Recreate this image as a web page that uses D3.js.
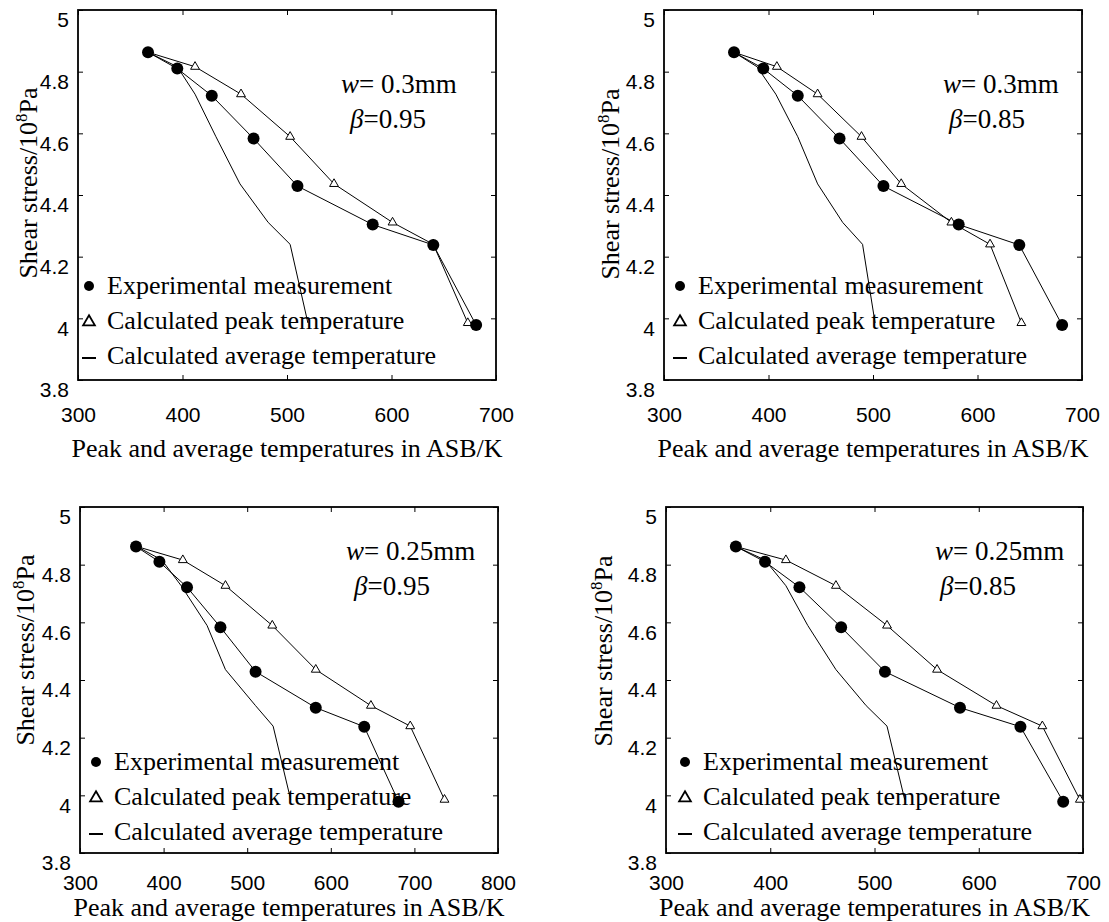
<!DOCTYPE html>
<html>
<head>
<meta charset="utf-8">
<script src="https://cdn.jsdelivr.net/npm/d3@7"></script>
<style>
body { margin: 0; background: #fff; }
.tick line { stroke: #000; stroke-width: 1; }
.tick text { font-family: "Liberation Sans", Arial, sans-serif; font-size: 21px; fill: #000; }
.serif { font-family: "Liberation Serif", "Times New Roman", serif; fill: #000; }
</style>
</head>
<body>
<div id="chart"></div>
<script>
var width = 1109,
	height = 922;

// measured points, same in all four panels
var expTemp = [367, 395, 428, 468, 510, 582, 640, 681];
var expStress = [4.863, 4.81, 4.722, 4.583, 4.429, 4.304, 4.238, 3.978];

// stress levels of the calculated curves
var calcStress = [4.863, 4.816, 4.727, 4.589, 4.436, 4.311, 4.24, 3.985];

// calculated peak temperature, one row per panel
var peakTemp = [
	[367, 412, 456, 503, 545, 601, 640, 673],
	[367, 408, 447, 489, 527, 575, 612, 642],
	[368, 423, 474, 530, 582, 648, 695, 736],
	[367, 415, 463, 512, 560, 617, 661, 697]
];

// calculated average temperature, one row per panel
var avgTemp = [
	[367, 395, 412, 432, 455, 482, 503, 520],
	[367, 389, 407, 428, 447, 471, 490, 502],
	[368, 398, 421, 452, 474, 510, 531, 552],
	[367, 395, 415, 436, 463, 492, 512, 529]
];

var bandWidth = ["0.3", "0.3", "0.25", "0.25"];
var betaValue = ["0.95", "0.85", "0.95", "0.85"];
var xMax = [700, 700, 800, 700];
var yTicks = [3.8, 4, 4.2, 4.4, 4.6, 4.8, 5];
var legendLabels = ["Experimental measurement", "Calculated peak temperature", "Calculated average temperature"];

// plot boxes in page pixels
var boxes = [
	{left: 78, top: 10, right: 496, bottom: 380},
	{left: 664, top: 10, right: 1082, bottom: 380},
	{left: 80, top: 507, right: 498, bottom: 853},
	{left: 666, top: 507, right: 1083, bottom: 853}
];

// small per-panel offsets
var noteX = [263, 279, 266, 269],
	betaX = [272, 285, 274, 274],
	noteY = [83, 83, 53, 53],
	legendX = [11, 16, 16, 19],
	legendBottom = [16, 16, 13, 13],
	yTitleBase = [41, 45, 46, 54],
	yTitleShift = [12, 11, 30, 29],
	xTickPad = [27, 27, 22, 22],
	xTitleY = [77, 77, 63, 63];

var svg = d3.select("#chart")
	.append("svg")
	.attr("width", width)
	.attr("height", height);

svg.append("rect")
	.attr("width", width)
	.attr("height", height)
	.attr("fill", "#fff");

function noDomain(a) { a.select(".domain").remove(); }

boxes.forEach(function(b, i) {
	var x = d3.scaleLinear().domain([300, xMax[i]]).range([b.left, b.right]);
	var y = d3.scaleLinear().domain([3.8, 5]).range([b.bottom, b.top]);
	var xTicks = d3.range(300, xMax[i] + 1, 100);
	var g = svg.append("g");

	// axes with inward ticks on all sides
	g.append("g")
		.attr("transform", "translate(0," + b.bottom + ")")
		.call(d3.axisBottom(x).tickValues(xTicks).tickSize(-5).tickPadding(xTickPad[i]).tickFormat(d3.format("d")))
		.call(noDomain);
	g.append("g")
		.attr("transform", "translate(0," + b.top + ")")
		.call(d3.axisTop(x).tickValues(xTicks).tickSize(-5).tickFormat(""))
		.call(noDomain);
	var yAxis = g.append("g")
		.attr("transform", "translate(" + b.left + ",0)")
		.call(d3.axisLeft(y).tickValues(yTicks).tickSize(-5).tickPadding(9).tickFormat(d3.format("~g")))
		.call(noDomain);
	yAxis.selectAll(".tick text").attr("dy", "0.8em");
	g.append("g")
		.attr("transform", "translate(" + b.right + ",0)")
		.call(d3.axisRight(y).tickValues(yTicks).tickSize(-5).tickFormat(""))
		.call(noDomain);

	g.append("rect")
		.attr("x", b.left)
		.attr("y", b.top)
		.attr("width", b.right - b.left)
		.attr("height", b.bottom - b.top)
		.attr("fill", "none")
		.attr("stroke", "#000")
		.attr("stroke-width", 1.8);

	// axis titles
	g.append("text")
		.attr("class", "serif")
		.attr("x", (b.left + b.right) / 2)
		.attr("y", b.bottom + xTitleY[i])
		.attr("text-anchor", "middle")
		.style("font-size", "26px")
		.text("Peak and average temperatures in ASB/K");

	var yTitle = g.append("text")
		.attr("class", "serif")
		.attr("transform", "translate(" + (b.left - yTitleBase[i]) + "," + ((b.top + b.bottom) / 2 - yTitleShift[i]) + ") rotate(-90)")
		.attr("text-anchor", "middle")
		.style("font-size", "26px");
	yTitle.append("tspan").text("Shear stress/10");
	yTitle.append("tspan").attr("dy", -10).style("font-size", "17px").text("8");
	yTitle.append("tspan").attr("dy", 10).text("Pa");

	// curves
	var line = d3.line()
		.x(function(d) { return x(d[0]); })
		.y(function(d) { return y(d[1]); });

	var expData = d3.zip(expTemp, expStress);
	var peakData = d3.zip(peakTemp[i], calcStress);
	var avgData = d3.zip(avgTemp[i], calcStress);

	[avgData, peakData, expData].forEach(function(data) {
		g.append("path")
			.datum(data)
			.attr("d", line)
			.attr("fill", "none")
			.attr("stroke", "#000")
			.attr("stroke-width", 1);
	});

	g.selectAll(".tri")
		.data(peakData)
		.enter()
		.append("path")
		.attr("class", "tri")
		.attr("transform", function(d) { return "translate(" + x(d[0]) + "," + y(d[1]) + ")"; })
		.attr("d", d3.symbol(d3.symbolTriangle).size(34))
		.attr("fill", "#fff")
		.attr("stroke", "#000")
		.attr("stroke-width", 1);

	g.selectAll(".dot")
		.data(expData)
		.enter()
		.append("circle")
		.attr("class", "dot")
		.attr("cx", function(d) { return x(d[0]); })
		.attr("cy", function(d) { return y(d[1]); })
		.attr("r", 6)
		.attr("fill", "#000");

	// note
	var note = g.append("text")
		.attr("class", "serif")
		.attr("x", b.left + noteX[i])
		.attr("y", b.top + noteY[i])
		.style("font-size", "27px");
	note.append("tspan").style("font-style", "italic").text("w");
	note.append("tspan").text("= " + bandWidth[i] + "mm");

	var betaText = g.append("text")
		.attr("class", "serif")
		.attr("x", b.left + betaX[i])
		.attr("y", b.top + noteY[i] + 35)
		.style("font-size", "27px");
	betaText.append("tspan").style("font-style", "italic").text("\u03b2");
	betaText.append("tspan").text("=" + betaValue[i]);

	// legend
	var lx = b.left + legendX[i];
	legendLabels.forEach(function(label, k) {
		var base = b.bottom - legendBottom[i] - (2 - k) * 35;
		if (k == 0) {
			g.append("circle")
				.attr("cx", lx)
				.attr("cy", base - 8)
				.attr("r", 5)
				.attr("fill", "#000");
		}
		else if (k == 1) {
			g.append("path")
				.attr("transform", "translate(" + lx + "," + (base - 7) + ")")
				.attr("d", d3.symbol(d3.symbolTriangle).size(60))
				.attr("fill", "none")
				.attr("stroke", "#000")
				.attr("stroke-width", 1.8);
		}
		else {
			g.append("line")
				.attr("x1", lx - 7)
				.attr("x2", lx + 7)
				.attr("y1", base - 6)
				.attr("y2", base - 6)
				.attr("stroke", "#000")
				.attr("stroke-width", 2);
		}
		g.append("text")
			.attr("class", "serif")
			.attr("x", lx + 18)
			.attr("y", base)
			.style("font-size", "26px")
			.text(label);
	});
});
</script>
</body>
</html>
